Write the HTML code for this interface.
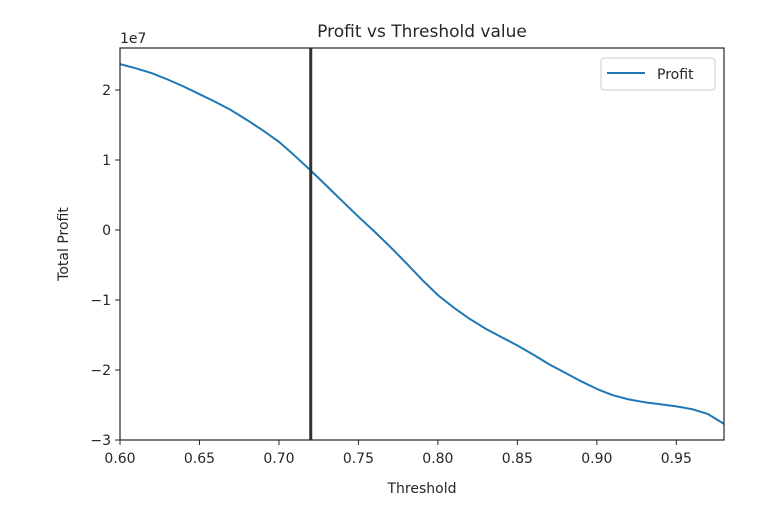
<!DOCTYPE html>
<html><head><meta charset="utf-8"><style>
body{margin:0;background:#fff;}
svg text{font-family:"DejaVu Sans","Liberation Sans",sans-serif;fill:#262626;}
</style></head><body>
<svg id="chart" width="782" height="510" xmlns="http://www.w3.org/2000/svg">
<rect x="0" y="0" width="782" height="510" fill="#fff"/>
<g id="plot"></g>
</svg>
<script>
const thresholds=[0.60,0.61,0.62,0.63,0.64,0.65,0.66,0.67,0.68,0.69,0.70,0.71,0.72,0.73,0.74,0.75,0.76,0.77,0.78,0.79,0.80,0.81,0.82,0.83,0.84,0.85,0.86,0.87,0.88,0.89,0.90,0.91,0.92,0.93,0.94,0.95,0.96,0.97,0.98];
const profit=[2.37,2.31,2.24,2.15,2.05,1.94,1.83,1.71,1.57,1.42,1.26,1.06,0.85,0.63,0.41,0.19,-0.02,-0.24,-0.47,-0.71,-0.93,-1.11,-1.27,-1.41,-1.53,-1.65,-1.78,-1.92,-2.04,-2.16,-2.27,-2.36,-2.42,-2.46,-2.49,-2.52,-2.56,-2.63,-2.77];
const xTicks=[0.60,0.65,0.70,0.75,0.80,0.85,0.90,0.95];
const xTickLabels=["0.60","0.65","0.70","0.75","0.80","0.85","0.90","0.95"];
const yTicks=[2,1,0,-1,-2,-3];
const yTickLabels=["2","1","0","\u22121","\u22122","\u22123"];
const vline=[0.72];
const L=120,R=724,T=48,B=440,xMin=0.60,xMax=0.98,yMin=-3.0,yMax=2.6;
const sx=v=>L+(v-xMin)/(xMax-xMin)*(R-L);
const sy=v=>B-(v-yMin)/(yMax-yMin)*(B-T);
const NS="http://www.w3.org/2000/svg";
const g=document.getElementById('plot');
function mk(tag,attrs,parent){const e=document.createElementNS(NS,tag);for(const k in attrs)e.setAttribute(k,attrs[k]);(parent||g).appendChild(e);return e;}
let d=thresholds.map((t,i)=>(i?'L':'M')+sx(t).toFixed(1)+','+sy(profit[i]).toFixed(1)).join(' ');
const line=mk('path',{d:d,fill:'none',stroke:'#1f77b4','stroke-width':2,'stroke-linejoin':'round'});


vline.forEach(v=>{const l=mk('line',{x1:sx(v),x2:sx(v),y1:T,y2:B,stroke:'#333','stroke-width':3});

});
const frame=mk('rect',{x:L,y:T,width:R-L,height:B-T,fill:'none',stroke:'#262626','stroke-width':1.2});


xTicks.forEach((v,i)=>{const x=sx(v);mk('line',{x1:x,x2:x,y1:B,y2:B+5,stroke:'#262626'});
const t=mk('text',{x:x,y:B+23,'text-anchor':'middle','font-size':14});t.textContent=xTickLabels[i];

});
yTicks.forEach((v,i)=>{const y=sy(v);mk('line',{x1:L-5,x2:L,y1:y,y2:y,stroke:'#262626'});
const t=mk('text',{x:L-9,y:y+5,'text-anchor':'end','font-size':14});t.textContent=yTickLabels[i];

});
const off=mk('text',{x:L,y:43,'font-size':14});off.textContent='1e7';


const title=mk('text',{x:(L+R)/2,y:37,'text-anchor':'middle','font-size':17});title.textContent='Profit vs Threshold value';


const xl=mk('text',{x:(L+R)/2,y:493,'text-anchor':'middle','font-size':14});xl.textContent='Threshold';


const yl=mk('text',{x:0,y:0,'text-anchor':'middle','font-size':14,transform:'translate(68,244) rotate(-90)'});yl.textContent='Total Profit';


const lg=mk('g',{});


mk('rect',{x:601,y:58,width:114,height:32,rx:3,fill:'#fff',stroke:'#ccc'},lg);
mk('line',{x1:607,x2:645,y1:73,y2:73,stroke:'#1f77b4','stroke-width':2},lg);
const lt=mk('text',{x:657,y:79,'font-size':14},lg);lt.textContent='Profit';


</script>
</body></html>
